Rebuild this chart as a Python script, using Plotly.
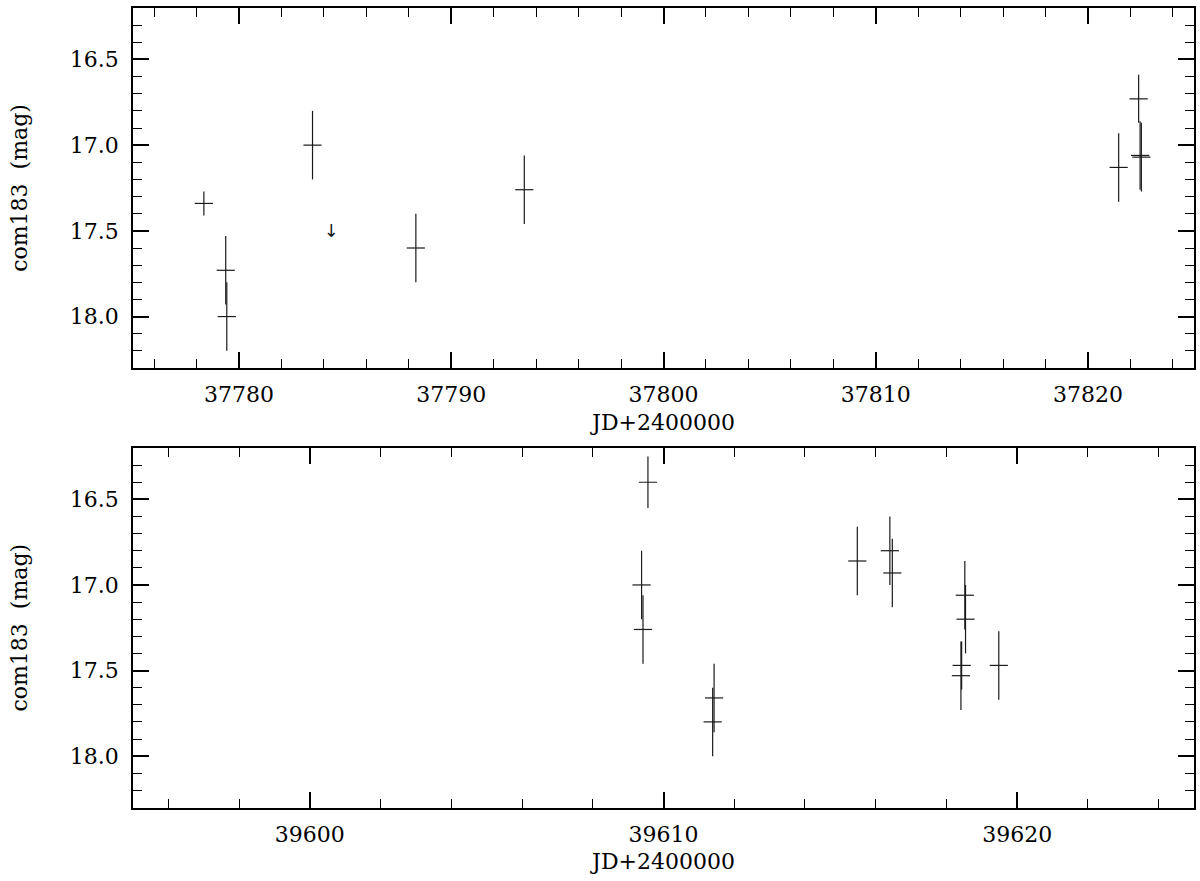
import plotly.graph_objects as go

# ---- data: top panel (1962) ----
top_jd = [37778.34, 37779.37, 37779.42, 37783.46, 37788.33, 37793.44,
          37821.45, 37822.39, 37822.46, 37822.52]
top_mag = [17.34, 17.73, 18.00, 17.00, 17.60, 17.26, 17.13, 16.73, 17.06, 17.07]
top_err = [0.07, 0.20, 0.20, 0.20, 0.20, 0.20, 0.20, 0.14, 0.20, 0.20]

limit_jd = [37784.35]
limit_mag = [17.51]

# ---- data: bottom panel (1967) ----
bot_jd = [39609.56, 39609.38, 39609.42, 39611.43, 39611.39, 39615.48, 39616.40,
          39616.47, 39618.52, 39618.54, 39618.43, 39618.41, 39619.48]
bot_mag = [16.40, 17.00, 17.26, 17.66, 17.80, 16.86, 16.80, 16.93, 17.06, 17.20,
           17.47, 17.53, 17.47]
bot_err = [0.15, 0.20, 0.20, 0.20, 0.20, 0.20, 0.20, 0.20, 0.20, 0.20, 0.14, 0.20, 0.20]

top_xrange = [37775, 37825]
bot_xrange = [39595, 39625]
mag_range = [18.3, 16.2]
y_tickvals = [16.5, 17.0, 17.5, 18.0]
y_ticktext = ["16.5", "17.0", "17.5", "18.0"]
x_title = "JD+2400000"
y_title = "com183  (mag)"

FONT = "DejaVu Serif"
INK = "#1a1a1a"
W, H = 1200, 881


def pts(x, y, e, xa, ya):
    return go.Scatter(
        x=x, y=y, xaxis=xa, yaxis=ya, mode="markers",
        marker=dict(symbol="line-ew", size=13, color=INK,
                    line=dict(color=INK, width=1.2)),
        error_y=dict(type="data", array=e, visible=True, width=0,
                     thickness=1.2, color=INK),
        showlegend=False, hoverinfo="x+y",
    )


fig = go.Figure()
fig.add_trace(pts(top_jd, top_mag, top_err, "x", "y"))
fig.add_trace(go.Scatter(
    x=limit_jd, y=limit_mag, xaxis="x", yaxis="y", mode="text", text=["↓"],
    textfont=dict(family="DejaVu Sans", size=18, color=INK),
    showlegend=False,
))
fig.add_trace(pts(bot_jd, bot_mag, bot_err, "x2", "y2"))

left, right = 133 / W, 1194 / W
top_dom = [1 - 368 / H, 1 - 8 / H]
bot_dom = [1 - 807.5 / H, 1 - 448 / H]


def xaxis(rng, anchor):
    return dict(
        domain=[left, right], range=rng, anchor=anchor,
        showline=True, linecolor="black", linewidth=1.8, mirror="ticks",
        ticks="inside", ticklen=16, tickwidth=1.8, tickcolor="black",
        dtick=10, tick0=0,
        minor=dict(ticks="inside", ticklen=9, tickwidth=1.3, tickcolor="black", dtick=2),
        showgrid=False, zeroline=False, tickformat="d",
        tickfont=dict(family=FONT, size=22, color="black"),
        ticklabelstandoff=6,
        title=dict(text=x_title, font=dict(family=FONT, size=22, color="black"), standoff=8),
        automargin=False,
    )


def yaxis(dom, anchor):
    return dict(
        domain=dom, range=mag_range, anchor=anchor,
        showline=True, linecolor="black", linewidth=1.8, mirror="ticks",
        ticks="inside", ticklen=16, tickwidth=1.8, tickcolor="black",
        tickvals=y_tickvals, ticktext=y_ticktext,
        minor=dict(ticks="inside", ticklen=9, tickwidth=1.3, tickcolor="black",
                   tickvals=[round(16.2 + 0.1 * i, 1) for i in range(22)]),
        showgrid=False, zeroline=False,
        tickfont=dict(family=FONT, size=22, color="black"),
        ticklabelstandoff=8,
        title=dict(text=y_title, font=dict(family=FONT, size=22, color="black"), standoff=36),
        automargin=False,
    )


fig.update_layout(
    width=W, height=H,
    margin=dict(l=0, r=0, t=0, b=0),
    paper_bgcolor="white", plot_bgcolor="white",
    xaxis=xaxis(top_xrange, "y"),
    yaxis=yaxis(top_dom, "x"),
    xaxis2=xaxis(bot_xrange, "y2"),
    yaxis2=yaxis(bot_dom, "x2"),
)

fig.write_html("out.html", config={"displayModeBar": False})

# remove the browser's default page margin so the figure sits at (0, 0)
with open("out.html", encoding="utf-8") as f:
    html = f.read()
html = html.replace("<head>", "<head><style>html,body{margin:0;padding:0;overflow:hidden}</style>", 1)
with open("out.html", "w", encoding="utf-8") as f:
    f.write(html)
